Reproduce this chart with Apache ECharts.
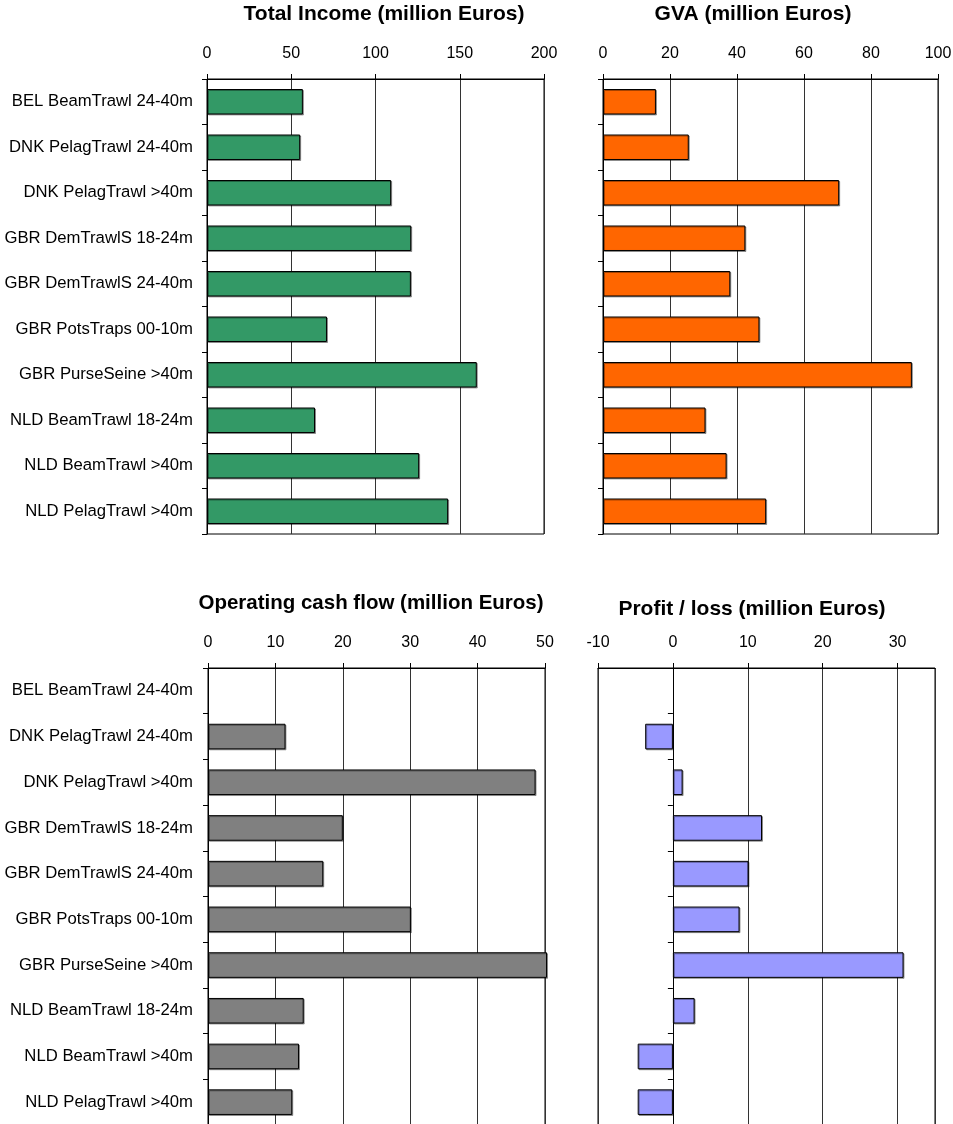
<!DOCTYPE html>
<html>
<head>
<meta charset="utf-8">
<script src="https://cdn.jsdelivr.net/npm/echarts@6/dist/echarts.min.js"></script>
<style>
  html, body { margin: 0; padding: 0; background: #fff; }
  #chart { width: 953px; height: 1124px; }
</style>
</head>
<body>
<div id="chart"></div>
<script>
const categories = [
  'BEL BeamTrawl 24-40m',
  'DNK PelagTrawl 24-40m',
  'DNK PelagTrawl >40m',
  'GBR DemTrawlS 18-24m',
  'GBR DemTrawlS 24-40m',
  'GBR PotsTraps 00-10m',
  'GBR PurseSeine >40m',
  'NLD BeamTrawl 18-24m',
  'NLD BeamTrawl >40m',
  'NLD PelagTrawl >40m'
]
const totalIncome = [56.9, 55.3, 109.3, 121.2, 121.0, 71.2, 160.1, 64.1, 125.9, 143.1]
const gva = [15.8, 25.6, 70.5, 42.5, 38.0, 46.7, 92.2, 30.6, 36.9, 48.7]
const cashFlow = [null, 11.5, 48.6, 20.0, 17.1, 30.1, 50.3, 14.2, 13.5, 12.5]
const profit = [null, -3.7, 1.3, 11.9, 10.1, 8.9, 30.8, 2.9, -4.7, -4.7]

const titles = [
  'Total Income (million Euros)',
  'GVA (million Euros)',
  'Operating cash flow (million Euros)',
  'Profit / loss (million Euros)'
]

const font = "'Liberation Sans', Arial, sans-serif"

const grids = [
  { left: 207, top: 79, width: 337, height: 455 },
  { left: 603, top: 79, width: 335, height: 455 },
  { left: 208, top: 668, width: 337, height: 457 },
  { left: 598, top: 668, width: 337, height: 457 }
]
const xRanges = [
  { min: 0, max: 200, interval: 50 },
  { min: 0, max: 100, interval: 20 },
  { min: 0, max: 50, interval: 10 },
  { min: -10, max: 35, interval: 10 }
]
const colors = ['#339966', '#FF6600', '#808080', '#9999FF']
const seriesData = [totalIncome, gva, cashFlow, profit]
const showNames = [true, false, true, false]
const titlePos = [[384, 4], [753, 4], [371, 593], [752, 599]]
const titleSizes = [21, 21, 20.5, 21]

const option = {
  backgroundColor: '#fff',
  animation: false,
  title: titles.map((t, i) => ({
    text: t,
    left: titlePos[i][0],
    top: titlePos[i][1],
    padding: 0,
    textAlign: 'center',
    textStyle: { fontFamily: font, fontSize: titleSizes[i], fontWeight: 'bold', color: '#000' }
  })),
  grid: grids.map(g => ({
    ...g,
    show: true,
    borderColor: '#000',
    borderWidth: 1,
    backgroundColor: 'transparent',
    containLabel: false,
    outerBoundsMode: 'none'
  })),
  xAxis: xRanges.map((r, i) => ({
    type: 'value',
    gridIndex: i,
    position: 'top',
    min: r.min,
    max: r.max,
    interval: r.interval,
    axisLine: { show: true, lineStyle: { color: '#000', width: 1 } },
    axisTick: { show: true, length: 5, lineStyle: { color: '#000' } },
    axisLabel: {
      margin: 17,
      fontFamily: font,
      fontSize: 16,
      color: '#000',
      showMaxLabel: i !== 3
    },
    splitLine: { show: true, lineStyle: { color: '#333', width: 1 } }
  })),
  yAxis: seriesData.map((d, i) => ({
    type: 'category',
    gridIndex: i,
    data: categories,
    inverse: true,
    axisLine: { show: true, onZero: true, lineStyle: { color: '#000', width: 1 } },
    axisTick: { show: true, length: 5, lineStyle: { color: '#000' } },
    axisLabel: {
      show: showNames[i],
      margin: i === 0 ? 14 : 15,
      fontFamily: font,
      fontSize: 16.7,
      color: '#000'
    },
    splitLine: { show: false }
  })),
  series: seriesData.map((d, i) => ({
    type: 'bar',
    xAxisIndex: i,
    yAxisIndex: i,
    data: d,
    barWidth: '56%',
    clip: false,
    itemStyle: {
      color: colors[i],
      borderColor: '#000',
      borderWidth: 1,
      shadowColor: 'rgba(0,0,0,0.35)',
      shadowOffsetX: 1,
      shadowOffsetY: 1
    }
  }))
}

const chart = echarts.init(document.getElementById('chart'))
chart.setOption(option)
</script>
</body>
</html>
